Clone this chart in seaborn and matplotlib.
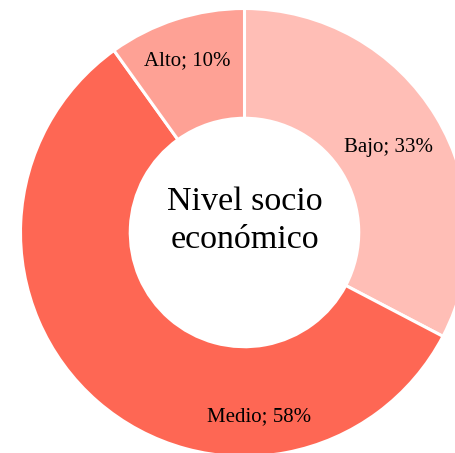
import numpy as np
import seaborn as sns
import matplotlib.pyplot as plt

# Nivel socio económico (porcentajes redondeados, suman 101)
categories = ["Bajo", "Medio", "Alto"]
values = [33, 58, 10]
colors = ["#FFBEB6", "#FE6754", "#FEA195"]

sns.set_style("white")
plt.rcParams['font.family'] = ['Liberation Serif', 'DejaVu Serif']
plt.rcParams['text.color'] = 'black'

fig = plt.figure(figsize=(4.56, 4.53), dpi=100)
# ring centre sits at (244.5, 232.5) px, outer radius 224 px -> partly cropped
cx, cy, r = 244.5, 232.5, 224
ax = fig.add_axes([(cx - r) / 456, (453 - cy - r) / 453, 2 * r / 456, 2 * r / 453])

wedges, _ = ax.pie(values, colors=colors, startangle=90, counterclock=False,
                   radius=1, wedgeprops=dict(width=0.49, edgecolor="white", linewidth=2.2))
ax.set_xlim(-1, 1)
ax.set_ylim(-1, 1)
ax.set_aspect("auto")
ax.axis("off")

# label placement: radius and angle shift from the wedge middle
label_r = [0.735, 0.845, 0.79]
label_shift = [-2, 45.5, 1]
for w, cat, val, lr, sh in zip(wedges, categories, values, label_r, label_shift):
    ang = np.deg2rad((w.theta1 + w.theta2) / 2 + sh)
    ax.text(lr * np.cos(ang), lr * np.sin(ang), f"{cat}; {val}%",
            ha="center", va="baseline", fontsize=15, color="black")

ax.text(0.0, 0.10, "Nivel socio", ha="center", va="baseline", fontsize=24.5, color="black")
ax.text(0.0, -0.069, "económico", ha="center", va="baseline", fontsize=24.5, color="black")

fig.savefig("out.png", dpi=100)
